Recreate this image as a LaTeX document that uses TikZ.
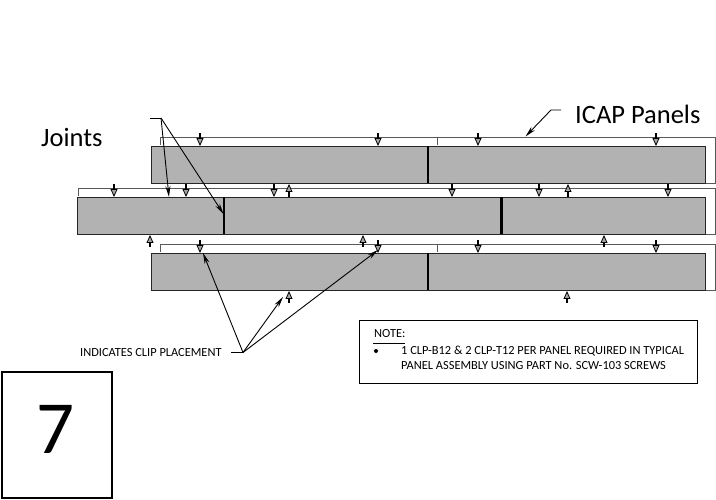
\documentclass[tikz,border=0pt]{standalone}
\usepackage{fontspec}
\setmainfont{Carlito}
\usetikzlibrary{arrows.meta}
\tikzset{
 panel/.style={draw=black!85,fill=black!30,line width=1.3pt},
 joint/.style={line width=2.4pt,black},
 outl/.style={draw=black!65,line width=.8pt},
 clip/.style={draw=black,line width=1.2pt,-{Triangle[open,fill=black!35,length=8pt,width=7pt,line width=.8pt]}},
 lead/.style={draw=black,line width=.9pt,-{Stealth[length=11pt,width=5pt]}},
 leadp/.style={draw=black,line width=.9pt},
 big/.style={font=\fontsize{26.5}{30}\selectfont,inner sep=0pt},
}
\begin{document}
\begin{tikzpicture}[x=1pt,y=-1pt]
\useasboundingbox (0,0) rectangle (716,500);
% back outlines
\draw[outl] (160.5,145) -- (160.5,137) -- (715.5,137) -- (715.5,183) -- (705,183);
\draw[outl] (437,137) -- (437,145);
\draw[outl] (78,196) -- (78,188) -- (715.5,188) -- (715.5,234) -- (705,234);
\draw[outl] (160.5,252) -- (160.5,244.5) -- (715.5,244.5) -- (715.5,290) -- (705,290);
\draw[outl] (437,244.5) -- (437,252);
% panels
\node[panel,minimum width=554pt,minimum height=37pt,inner sep=0pt,anchor=north west] (p1) at (151,146) {};
\node[panel,minimum width=628pt,minimum height=37pt,inner sep=0pt,anchor=north west] (p2) at (77,197) {};
\node[panel,minimum width=554pt,minimum height=37pt,inner sep=0pt,anchor=north west] (p3) at (151,253) {};
\draw[joint] (428,146) -- (428,183);
\draw[joint] (224,197) -- (224,234);
\draw[joint] (501.5,197) -- (501.5,234);
\draw[joint] (428,253) -- (428,290);
% clips
\foreach \x in {200,378,478,656} {\draw[clip] (\x,133) -- (\x,146); \draw[clip] (\x,240) -- (\x,253);}
\foreach \x in {114,186,274,452,539,668} {\draw[clip] (\x,184) -- (\x,197);}
\foreach \x in {289,568} {\draw[clip] (\x,197) -- (\x,184);}
\foreach \x in {150,363,604} {\draw[clip] (\x,247) -- (\x,235);}
\foreach \x in {289,567} {\draw[clip] (\x,303) -- (\x,291);}
% joints label
\node[big,anchor=west] (jl) at (41,137) {Joints};
\coordinate (ja) at (150,118);
\coordinate (jb) at (161,118);
\coordinate (jc) at (169,197);
\coordinate (jd) at (223.5,214);
\draw[leadp] (ja) -- (jb);
\draw[lead] (jb) -- (jc);
\draw[lead] (jb) -- (jd);
% ICAP label
\node[big,anchor=west] (il) at (575,114) {ICAP Panels};
\coordinate (ia) at (561,110);
\coordinate (ib) at (551,110);
\coordinate (ic) at (525.5,136.5);
\draw[lead] (ia) -- (ib) -- (ic);
% clip label
\node[inner sep=0pt,anchor=west,font=\fontsize{12.4}{14}\selectfont] (cl) at (80,352.5) {INDICATES CLIP PLACEMENT};
\coordinate (ca) at (231,352.5);
\coordinate (cb) at (243,352.5);
\draw[leadp] (ca) -- (cb);
\coordinate (c1) at (203,253);
\coordinate (c2) at (378,250);
\coordinate (c3) at (283,297);
\draw[lead] (cb) -- (c1);
\draw[lead] (cb) -- (c2);
\draw[lead] (cb) -- (c3);
% note
\node[draw=black,line width=1pt,minimum width=338pt,minimum height=63pt,anchor=north west,inner sep=0pt] (nb) at (359,320) {};
\node[inner sep=0pt,anchor=west,font=\fontsize{12.4}{14}\selectfont] (n0) at (374,334) {NOTE:};
\draw[black,line width=1pt] (373,343) -- (405,343);
\fill (376,351) circle (2pt);
\node[inner sep=0pt,anchor=west,font=\fontsize{12.4}{14}\selectfont] (n1) at (401,351) {1 CLP-B12 \& 2 CLP-T12 PER PANEL REQUIRED IN TYPICAL};
\node[inner sep=0pt,anchor=west,font=\fontsize{12.4}{14}\selectfont] (n2) at (401,366) {PANEL ASSEMBLY USING PART No. SCW-103 SCREWS};
% seven
\node[draw=black,line width=1.8pt,minimum width=110pt,minimum height=126pt,anchor=north west,inner sep=0pt] (sv) at (1,371) {};
\node[inner sep=0pt,font=\fontsize{75}{80}\selectfont] (sn) at (56,429) {7};
\end{tikzpicture}
\end{document}
